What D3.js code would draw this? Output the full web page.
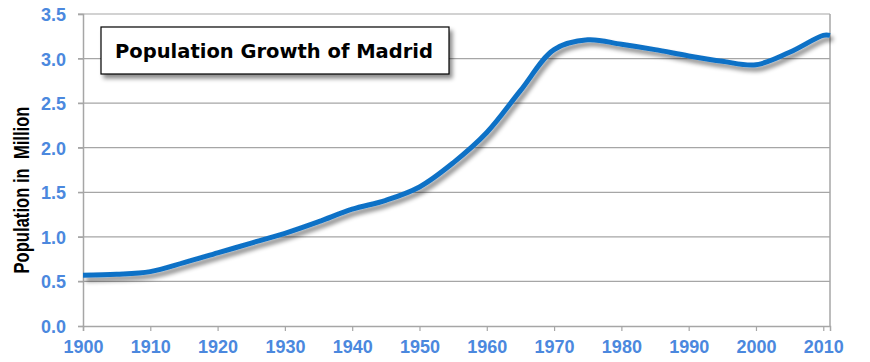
<!DOCTYPE html>
<html>
<head>
<meta charset="utf-8">
<script src="https://cdn.jsdelivr.net/npm/d3@7"></script>
<style>
  body { margin: 0; background: #fff; }
  svg { display: block; }
</style>
</head>
<body>
<div id="chart"></div>
<script>
// values (population in million)
var years = [1900, 1905, 1910, 1915, 1920, 1925, 1930, 1935, 1940, 1945, 1950, 1955,
             1960, 1965, 1970, 1975, 1980, 1985, 1990, 1995, 2000, 2005, 2010, 2011];
var population = [0.57, 0.58, 0.61, 0.71, 0.82, 0.93, 1.04, 1.17, 1.31, 1.41, 1.56, 1.83,
                  2.17, 2.64, 3.10, 3.21, 3.16, 3.10, 3.03, 2.97, 2.93, 3.07, 3.26, 3.26];
var xTicks = [1900, 1910, 1920, 1930, 1940, 1950, 1960, 1970, 1980, 1990, 2000, 2010];
var yTicks = [0, 0.5, 1, 1.5, 2, 2.5, 3, 3.5];

var width = 870, height = 362;
var plotLeft = 83, plotRight = 830, plotTop = 14, plotBottom = 326;

var svg = d3.select("#chart").append("svg")
    .attr("width", width)
    .attr("height", height);

var defs = svg.append("defs");
var shadow = defs.append("filter").attr("id", "shadow")
    .attr("x", "-10%").attr("y", "-10%").attr("width", "130%").attr("height", "140%");
shadow.append("feDropShadow")
    .attr("dx", 3).attr("dy", 4).attr("stdDeviation", 2)
    .attr("flood-color", "#000").attr("flood-opacity", 0.45);

var xScale = d3.scaleLinear().domain([1900, 2011]).range([plotLeft, plotRight]);
var yScale = d3.scaleLinear().domain([0, 3.5]).range([plotBottom, plotTop]);

// gridlines
svg.append("g")
    .selectAll("line")
    .data(yTicks.filter(d => d > 0))
    .enter()
    .append("line")
    .attr("x1", plotLeft - 5)
    .attr("x2", plotRight)
    .attr("y1", d => yScale(d))
    .attr("y2", d => yScale(d))
    .attr("stroke", "#a6a6a6")
    .attr("stroke-width", 1.2);

// right border
svg.append("line")
    .attr("x1", plotRight).attr("x2", plotRight)
    .attr("y1", plotTop).attr("y2", plotBottom)
    .attr("stroke", "#a6a6a6").attr("stroke-width", 1.5);

var labelColor = "#4b88de";

// y axis
var yAxis = svg.append("g")
    .attr("transform", "translate(" + plotLeft + ",0)")
    .call(d3.axisLeft(yScale).tickValues(yTicks).tickFormat(d3.format(".1f")).tickSize(5).tickPadding(12));
// x axis
var xAxis = svg.append("g")
    .attr("transform", "translate(0," + plotBottom + ")")
    .call(d3.axisBottom(xScale).tickValues(xTicks).tickFormat(d3.format("d")).tickSize(5).tickPadding(9));

[yAxis, xAxis].forEach(function(ax) {
    ax.select(".domain").attr("stroke", "#a6a6a6").attr("stroke-width", 1.5);
    ax.selectAll(".tick line").attr("stroke", "#a6a6a6").attr("stroke-width", 1.2);
    ax.selectAll(".tick text")
        .attr("fill", labelColor)
        .style("font-family", "'Liberation Sans', Arial, sans-serif")
        .style("font-size", "18px")
        .style("font-weight", "bold");
});
yAxis.selectAll(".tick text").attr("dy", "0.36em");

// line
var line = d3.line()
    .x((d, i) => xScale(years[i]))
    .y(d => yScale(d))
    .curve(d3.curveCatmullRom.alpha(0.5));

svg.append("path")
    .datum(population)
    .attr("d", line)
    .attr("fill", "none")
    .attr("stroke", "#1071c6")
    .attr("stroke-width", 5)
    .attr("stroke-linecap", "butt")
    .attr("filter", "url(#shadow)");

// y axis title
svg.append("text")
    .attr("transform", "translate(29,190) rotate(-90)")
    .attr("text-anchor", "middle")
    .attr("textLength", 167)
    .attr("lengthAdjust", "spacingAndGlyphs")
    .style("font-family", "'Liberation Sans', Arial, sans-serif")
    .style("font-size", "22px")
    .style("font-weight", "bold")
    .style("white-space", "pre")
    .attr("fill", "#000")
    .text("Population in  Million");

// title box
svg.append("rect")
    .attr("x", 101).attr("y", 27)
    .attr("width", 348).attr("height", 47)
    .attr("fill", "#fff")
    .attr("stroke", "#000")
    .attr("stroke-width", 1.2)
    .attr("filter", "url(#shadow)");

svg.append("text")
    .attr("x", 115).attr("y", 58)
    .attr("textLength", 318)
    .attr("lengthAdjust", "spacingAndGlyphs")
    .style("font-family", "'DejaVu Sans', Verdana, sans-serif")
    .style("font-size", "20px")
    .style("font-weight", "bold")
    .attr("fill", "#000")
    .text("Population Growth of Madrid");
</script>
</body>
</html>
